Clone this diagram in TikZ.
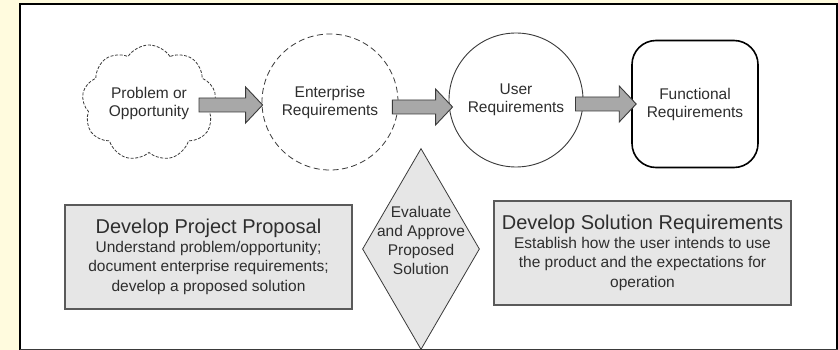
\documentclass[tikz,border=0pt]{standalone}
\usepackage{fontspec}
\setmainfont{Liberation Sans}
\usetikzlibrary{shapes.symbols,shapes.geometric,calc}

\definecolor{pagebg}{HTML}{FFFBDE}
\definecolor{inkgray}{HTML}{2E2E2E}
\definecolor{edgegray}{HTML}{3A3A3A}
\definecolor{panelfill}{HTML}{E6E6E6}
\definecolor{panelline}{HTML}{5A5A5A}
\definecolor{arrowfill}{HTML}{A8A8A8}

% horizontal block arrow from point #1 to the tip #2
\newcommand\blockarrow[2]{%
  \draw[blockarrowstyle] let \p1=#1, \p2=#2 in
    (\x1,\y1+7pt) -- (\x2-17pt,\y1+7pt) -- (\x2-17pt,\y1+18pt) -- (\x2,\y1)
    -- (\x2-17pt,\y1-18pt) -- (\x2-17pt,\y1-7pt) -- (\x1,\y1-7pt) -- cycle;}

\tikzset{
  bodytext/.style={text=inkgray, align=center, font=\fontsize{15.5}{18}\selectfont},
  cloudnode/.style={bodytext, cloud, cloud puffs=9, cloud puff arc=115, cloud ignores aspect,
    minimum width=134pt, minimum height=116pt, inner sep=0pt, draw=edgegray,
    line width=0.8pt, dash pattern=on 3pt off 1.6pt, fill=white},
  dashcircle/.style={bodytext, circle, draw=edgegray, line width=0.8pt,
    dash pattern=on 6pt off 3.5pt, minimum size=136pt, inner sep=0pt},
  solidcircle/.style={bodytext, circle, draw=edgegray, line width=0.9pt,
    minimum size=134pt, inner sep=0pt},
  roundbox/.style={bodytext, rectangle, rounded corners=24pt, draw=black, line width=1.6pt,
    minimum width=126pt, minimum height=127pt, inner sep=0pt},
  panel/.style={text=inkgray, align=center, font=\fontsize{15.5}{19.5}\selectfont,
    fill=panelfill, draw=panelline, line width=1.4pt, inner sep=0pt},
  decision/.style={diamond, fill=panelfill, draw=edgegray, line width=0.8pt,
    minimum width=117pt, minimum height=201pt, inner sep=0pt},
  blockarrowstyle/.style={fill=arrowfill, draw=edgegray, line width=0.9pt, line join=miter},
}

\begin{document}
\begin{tikzpicture}[x=1pt, y=-1pt]
  % page and frame
  \fill[pagebg] (0,0) rectangle (838,350);
  \useasboundingbox (0,0) rectangle (838,350);
  \fill[white] (20,4) rectangle (838,350);

  % decision diamond
  \node[decision] (eval) at (421,249) {};
  \node[bodytext, font=\fontsize{15.5}{19}\selectfont] (evaltext) at (421,240)
    {Evaluate\\and Approve\\Proposed\\Solution};

  % flow shapes
  \node[cloudnode] (cloud) at (149,103) {Problem or\\Opportunity};
  \node[dashcircle] (ent) at (330,102) {Enterprise\\Requirements};
  \node[solidcircle] (user) at (516,100) {User\\Requirements};
  \node[roundbox] (func) at (695,104) {Functional\\Requirements};

  % block arrows between the shapes
  \blockarrow{($(cloud.east)+(-16,2)$)}{($(ent.west)+(1,2)$)}
  \blockarrow{($(ent.east)+(-6,5)$)}{($(user.west)+(4,5)$)}
  \blockarrow{($(user.east)+(-8,4)$)}{($(func.west)+(5,4)$)}

  % description panels
  \node[panel, minimum width=287pt, minimum height=104pt] (proposal) at (208.5,257)
    {{\fontsize{20}{23}\selectfont Develop Project Proposal}\\[-1pt]
     Understand problem/opportunity;\\document enterprise requirements;\\develop a proposed solution};
  \node[panel, minimum width=297pt, minimum height=104pt] (solution) at (642.5,253)
    {{\fontsize{20}{23}\selectfont Develop Solution Requirements}\\[-1pt]
     Establish how the user intends to use\\the product and the expectations for\\operation};

  % frame edges
  \draw[black, line width=2.6pt] (20,350) -- (20,4) -- (838,4);
  \draw[black, line width=1.5pt] (837.2,4) -- (837.2,350);
  \draw[edgegray, line width=1.2pt] (20,349.2) -- (838,349.2);
\end{tikzpicture}
\end{document}
